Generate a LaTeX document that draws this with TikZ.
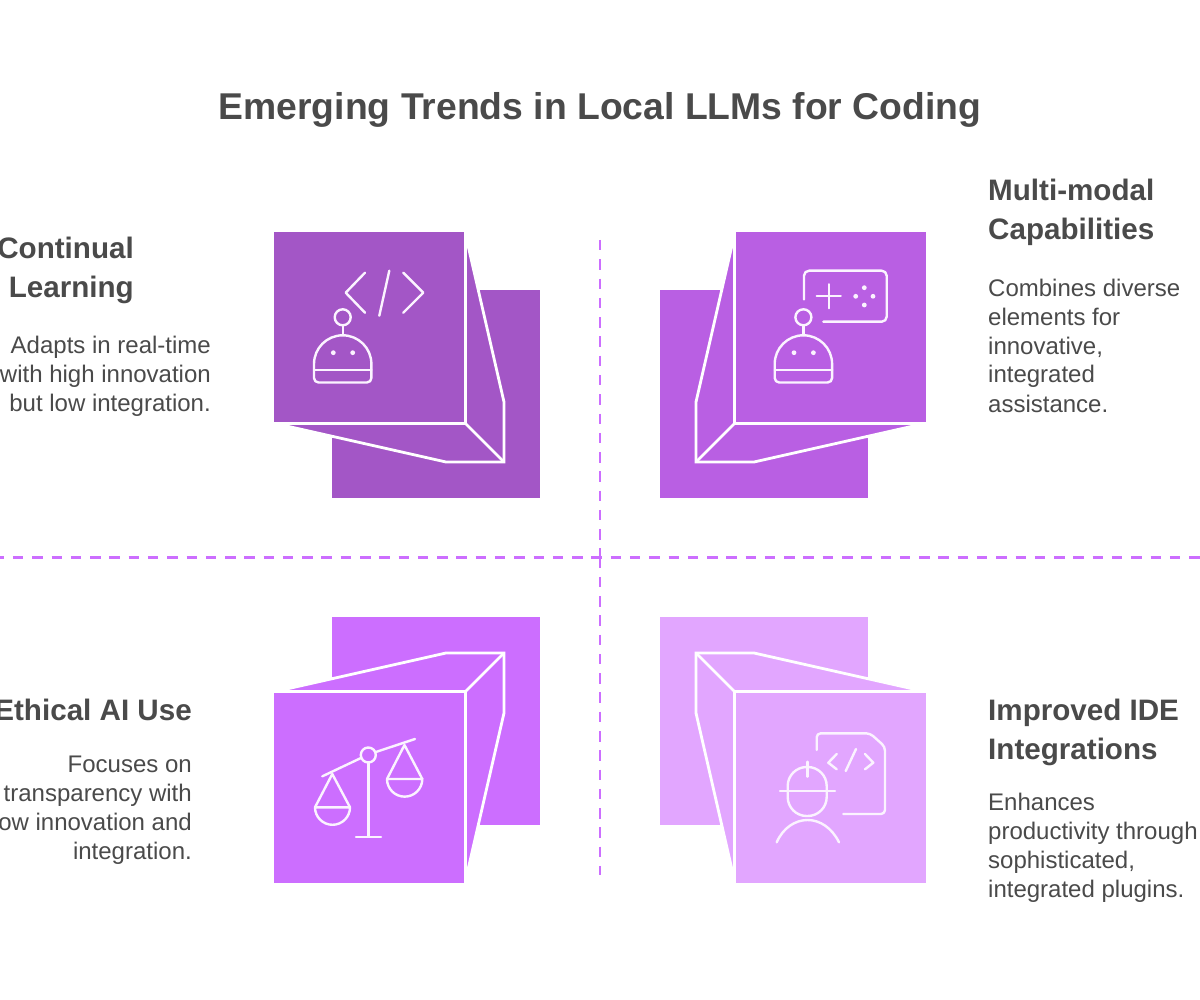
\documentclass[tikz,border=0pt]{standalone}
\usepackage{fontspec}
\setmainfont{Liberation Sans}
\definecolor{ink}{HTML}{4A4A4A}
\definecolor{tl}{HTML}{A356C6}
\definecolor{tr}{HTML}{B95FE3}
\definecolor{bl}{HTML}{CC6EFF}
\definecolor{br}{HTML}{E2A6FF}
\definecolor{iconline}{HTML}{FBF3FF}
\newcommand{\cube}[1]{%
  \fill[#1] (332,290) rectangle (540,498);
  \draw[faceline,fill=#1] (465.4,423.4) -- (465.4,234) -- (504,402) -- (504,462) -- (446,462) -- (275,423.4) -- cycle;
  \draw[faceline] (465.4,423.4) -- (504,462);
  \fill[#1] (274,232) rectangle (464,422);
}
\newcommand{\robot}[1]{%
  \begin{scope}[xshift=#1]
  \draw[icon] (342.7,317.3) circle (8);
  \draw[icon] (342.7,325.5) -- (342.7,335);
  \draw[icon] (314,364) arc (180:360:28.7) -- (371.4,378) arc (0:90:4.5) -- (318.5,382.5) arc (90:180:4.5) -- cycle;
  \draw[icon] (314,370) -- (371.4,370);
  \fill[iconline] (333.3,352.7) circle (2.4) (352.7,352.7) circle (2.4);
  \end{scope}
}
\tikzset{
  faceline/.style={draw=white,line width=2.8pt,line join=miter,miter limit=10},
  icon/.style={draw=iconline,line width=2.4pt,line cap=round,line join=round},
  dashline/.style={draw=bl,line width=2.6pt,dash pattern=on 10.5pt off 8.78pt},
  title/.style={font=\fontsize{37.3}{42}\selectfont\bfseries,text=ink,inner sep=0pt,anchor=base},
  head/.style={font=\fontsize{29.6}{39}\selectfont\bfseries,text=ink,inner sep=0pt},
  body/.style={font=\fontsize{24}{29}\selectfont,text=ink,inner sep=0pt},
}
\begin{document}
\begin{tikzpicture}[x=1pt,y=-1pt]
\useasboundingbox (0,0) rectangle (1200,1000);
\clip (0,0) rectangle (1200,1000);
\fill[white] (0,0) rectangle (1200,1000);
\node[title] (ttl) at (600,120) {Emerging Trends in Local LLMs for Coding};

% dashed axes
\coordinate (hl) at (-6.3,557.5);
\coordinate (hr) at (1200,557.5);
\coordinate (vt) at (600,240);
\coordinate (vm) at (600,557.5);
\coordinate (vb) at (600,875);
\draw[dashline] (hl) -- (hr);
\draw[dashline] (vt) -- (vm);
\draw[dashline] (vm) -- (vb);

% cubes
\cube{tl}
\begin{scope}[shift={(1200,0)},xscale=-1]\cube{tr}\end{scope}
\begin{scope}[shift={(0,1115)},yscale=-1]\cube{bl}\end{scope}
\begin{scope}[shift={(1200,1115)},xscale=-1,yscale=-1]\cube{br}\end{scope}

% top-left icon
\robot{0pt}
\draw[icon] (365,272.7) -- (345.7,292.7) -- (365,312.7);
\draw[icon] (389.3,270.7) -- (379.3,315.7);
\draw[icon] (403.3,272.7) -- (423.3,292.7) -- (403.3,312.7);

% top-right icon
\robot{460.7pt}
\draw[icon,rounded corners=5] (804,299.5) -- (804,270.7) -- (886.7,270.7) -- (886.7,321.7) -- (823.3,321.7);
\draw[icon] (828.7,284.3) -- (828.7,308.3) (816.7,296.3) -- (840.7,296.3);
\fill[iconline] (864.3,287.7) circle (2.4) (855.7,296.3) circle (2.4) (873,296.3) circle (2.4) (864.3,305) circle (2.4);

% bottom-left icon
\draw[icon] (322.3,776.3) -- (361.4,757.8) (375.3,752.2) -- (415,739);
\draw[icon] (368.3,755) circle (7.5);
\draw[icon] (368.3,762.5) -- (368.3,836.7);
\draw[icon] (356,837) -- (381,837);
\draw[icon] (315,807.3) -- (332.3,774) -- (350,807.3);
\draw[icon] (315,807.3) -- (350,807.3) arc (0:180:17.5);
\draw[icon] (387,779) -- (404.5,745) -- (422.3,779);
\draw[icon] (387,779) -- (422.3,779) arc (0:180:17.65);

% bottom-right icon
\draw[icon,rounded corners=4] (816.7,750) -- (816.7,733.3) -- (870,733.3) -- (885,746.7) -- (885,814) -- (843.3,814);
\draw[icon] (836.7,754) -- (828.3,762.7) -- (836.7,769.3);
\draw[icon] (856,749) -- (845.7,771);
\draw[icon] (865,754) -- (873.3,762.7) -- (865,769.3);
\draw[icon,rounded corners=19] (787.7,767) rectangle (826.7,816);
\draw[icon] (780,791) -- (835,791);
\draw[icon] (807.3,761.7) -- (807.3,776.7);
\draw[icon] (776.7,842.3) .. controls (783,828) and (795,820) .. (807.7,820) .. controls (820,820) and (832,828) .. (839,842.3);

% texts
\node[head,align=right,anchor=base east] (h1) at (134,298) {Continual\\Learning};
\node[body,align=right,anchor=base east] (b1) at (211,411) {Adapts in real-time\\with high innovation\\but low integration.};
\node[head,align=left,anchor=base west] (h2) at (988,240) {Multi-modal\\Capabilities};
\node[body,align=left,anchor=base west] (b2) at (988,412) {Combines diverse\\elements for\\innovative,\\integrated\\assistance.};
\node[head,align=right,anchor=base east] (h3) at (192,720.5) {Ethical AI Use};
\node[body,align=right,anchor=base east] (b3) at (192,859) {Focuses on\\transparency with\\low innovation and\\integration.};
\node[head,align=left,anchor=base west] (h4) at (988,759) {Improved IDE\\Integrations};
\node[body,align=left,anchor=base west] (b4) at (988,897) {Enhances\\productivity through\\sophisticated,\\integrated plugins.};
\end{tikzpicture}
\end{document}
